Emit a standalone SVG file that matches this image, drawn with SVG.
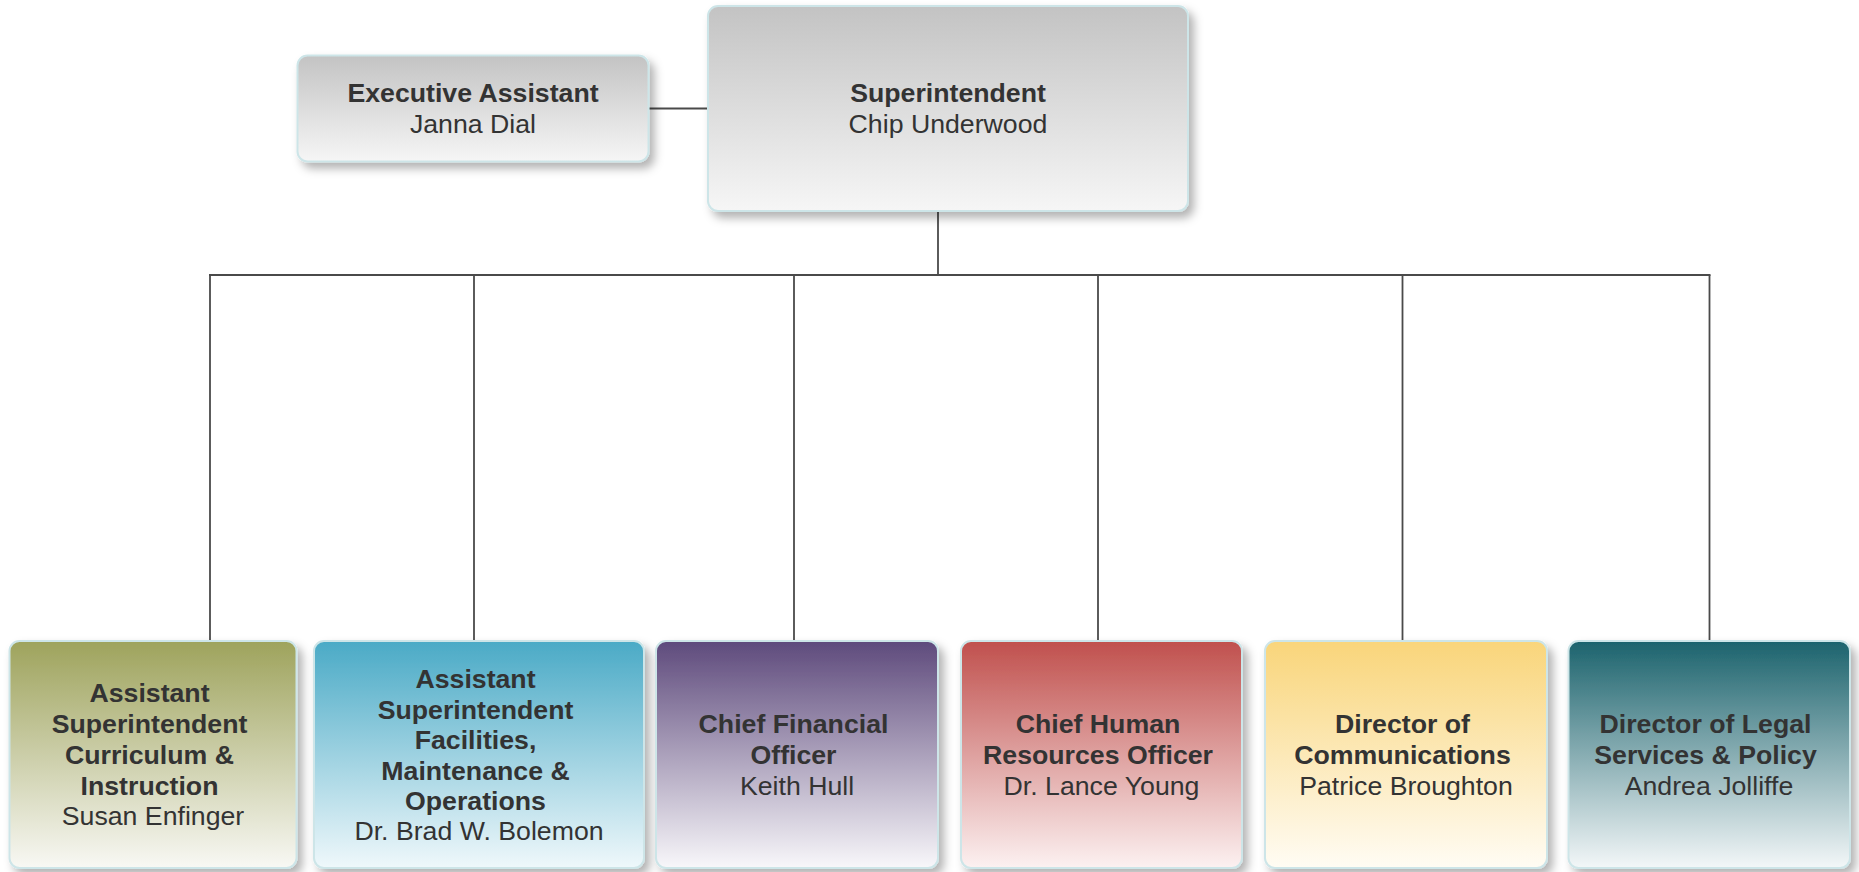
<svg xmlns="http://www.w3.org/2000/svg" width="1859" height="872" viewBox="0 0 1859 872">
<style>
.box{stroke:#cde5e8;stroke-width:2}
.t{font-family:"Liberation Sans",Arial,sans-serif;font-size:26.7px;fill:#333;text-anchor:middle}
.b{font-weight:bold}
.ln{stroke:#4a4a4a;stroke-width:1.8;fill:none}
</style>
<defs>
<filter id="sh" x="-10%" y="-10%" width="125%" height="130%">
<feDropShadow dx="5" dy="6" stdDeviation="5" flood-color="#000" flood-opacity="0.3"/>
</filter>
<linearGradient id="gGray" x1="0" y1="0" x2="0" y2="1"><stop offset="0" stop-color="#c3c3c3"/><stop offset="1" stop-color="#f6f6f6"/></linearGradient>
<linearGradient id="g1" x1="0" y1="0" x2="0" y2="1"><stop offset="0" stop-color="#9ea35c"/><stop offset="1" stop-color="#f8f8f4"/></linearGradient>
<linearGradient id="g2" x1="0" y1="0" x2="0" y2="1"><stop offset="0" stop-color="#4aaac6"/><stop offset="1" stop-color="#eff8fb"/></linearGradient>
<linearGradient id="g3" x1="0" y1="0" x2="0" y2="1"><stop offset="0" stop-color="#5e4a7c"/><stop offset="1" stop-color="#f8f7fa"/></linearGradient>
<linearGradient id="g4" x1="0" y1="0" x2="0" y2="1"><stop offset="0" stop-color="#c0504d"/><stop offset="1" stop-color="#fcf1f1"/></linearGradient>
<linearGradient id="g5" x1="0" y1="0" x2="0" y2="1"><stop offset="0" stop-color="#f9d57a"/><stop offset="1" stop-color="#fffcf4"/></linearGradient>
<linearGradient id="g6" x1="0" y1="0" x2="0" y2="1"><stop offset="0" stop-color="#1c636d"/><stop offset="1" stop-color="#f3f7f8"/></linearGradient>
</defs>
<rect width="1859" height="872" fill="#fff"/>
<g id="connectors">
<line class="ln" x1="648" y1="108.5" x2="708" y2="108.5"/>
<line class="ln" x1="938" y1="211" x2="938" y2="275"/>
<line class="ln" x1="209" y1="275" x2="1710.5" y2="275"/>
<line class="ln" x1="210" y1="275" x2="210" y2="641"/>
<line class="ln" x1="474" y1="275" x2="474" y2="641"/>
<line class="ln" x1="794" y1="275" x2="794" y2="641"/>
<line class="ln" x1="1098" y1="275" x2="1098" y2="641"/>
<line class="ln" x1="1402.5" y1="275" x2="1402.5" y2="641"/>
<line class="ln" x1="1709.5" y1="275" x2="1709.5" y2="641"/>
</g>
<g id="exec">
<rect class="box" x="297.5" y="55.5" width="351" height="106" rx="10" fill="url(#gGray)" filter="url(#sh)"/>
<text class="t b" x="473" y="102">Executive Assistant</text>
<text class="t" x="473" y="133">Janna Dial</text>
</g>
<g id="super">
<rect class="box" x="708" y="6" width="480" height="205" rx="10" fill="url(#gGray)" filter="url(#sh)"/>
<text class="t b" x="948" y="102">Superintendent</text>
<text class="t" x="948" y="133">Chip Underwood</text>
</g>
<g id="curriculum">
<rect class="box" x="9.5" y="641" width="287" height="227" rx="10" fill="url(#g1)" filter="url(#sh)"/>
<text class="t b" x="149.5" y="702">Assistant</text>
<text class="t b" x="149.5" y="733">Superintendent</text>
<text class="t b" x="149.5" y="764">Curriculum &amp;</text>
<text class="t b" x="149.5" y="795">Instruction</text>
<text class="t" x="153" y="825">Susan Enfinger</text>
</g>
<g id="facilities">
<rect class="box" x="314" y="641" width="330" height="227" rx="10" fill="url(#g2)" filter="url(#sh)"/>
<text class="t b" x="475.5" y="688">Assistant</text>
<text class="t b" x="475.5" y="718.5">Superintendent</text>
<text class="t b" x="475.5" y="749">Facilities,</text>
<text class="t b" x="475.5" y="779.5">Maintenance &amp;</text>
<text class="t b" x="475.5" y="810">Operations</text>
<text class="t" x="479" y="840">Dr. Brad W. Bolemon</text>
</g>
<g id="cfo">
<rect class="box" x="656" y="641" width="282" height="227" rx="10" fill="url(#g3)" filter="url(#sh)"/>
<text class="t b" x="793.5" y="733">Chief Financial</text>
<text class="t b" x="793.5" y="764">Officer</text>
<text class="t" x="797" y="794.5">Keith Hull</text>
</g>
<g id="hr">
<rect class="box" x="961" y="641" width="281" height="227" rx="10" fill="url(#g4)" filter="url(#sh)"/>
<text class="t b" x="1098" y="733">Chief Human</text>
<text class="t b" x="1098" y="764">Resources Officer</text>
<text class="t" x="1101.5" y="794.5">Dr. Lance Young</text>
</g>
<g id="comms">
<rect class="box" x="1265" y="641" width="282" height="227" rx="10" fill="url(#g5)" filter="url(#sh)"/>
<text class="t b" x="1402.5" y="733">Director of</text>
<text class="t b" x="1402.5" y="764">Communications</text>
<text class="t" x="1406" y="794.5">Patrice Broughton</text>
</g>
<g id="legal">
<rect class="box" x="1568.5" y="641" width="281.5" height="227" rx="10" fill="url(#g6)" filter="url(#sh)"/>
<text class="t b" x="1705.5" y="733">Director of Legal</text>
<text class="t b" x="1705.5" y="764">Services &amp; Policy</text>
<text class="t" x="1709" y="794.5">Andrea Jolliffe</text>
</g>
</svg>
